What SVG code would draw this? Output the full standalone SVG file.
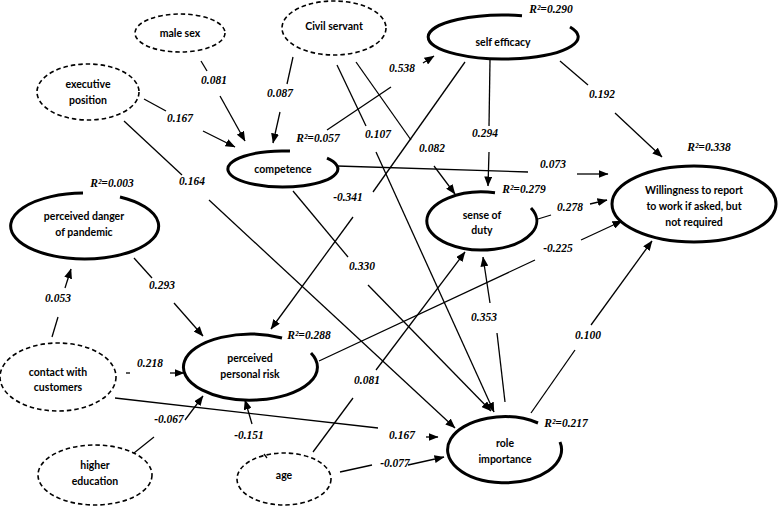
<svg xmlns="http://www.w3.org/2000/svg" width="778" height="506" viewBox="0 0 778 506">
<style>
.bg{fill:#fff}
.exo{fill:none;stroke:#000;stroke-width:1.6;stroke-dasharray:4.5 3}
.endo{fill:none;stroke:#000;stroke-width:3}
.nt{font-family:Lato,"Liberation Sans",sans-serif;font-weight:bold;font-size:10.5px;text-anchor:middle;fill:#000}
.cf{font-family:"Liberation Serif",serif;font-weight:bold;font-style:italic;font-size:11.5px;text-anchor:middle;fill:#000}
.c line{stroke:#000;stroke-width:1.3}
.c line.a{marker-end:url(#ah)}
</style>
<defs>
<marker id="ah" viewBox="0 0 10 8" refX="9.5" refY="4" markerWidth="10" markerHeight="8" markerUnits="userSpaceOnUse" orient="auto">
<path d="M0,0 L10,4 L0,8 Z" fill="#000"/>
</marker>
</defs>
<rect class="bg" x="0" y="0" width="778" height="506"/>

<g id="male-sex"><ellipse class="exo" cx="180" cy="33" rx="45" ry="19"/><text class="nt" x="180" y="37">male sex</text></g>
<g id="executive-position"><ellipse class="exo" cx="88" cy="92" rx="51" ry="28"/><text class="nt" x="88" y="88">executive</text><text class="nt" x="88" y="104">position</text></g>
<g id="civil-servant"><ellipse class="exo" cx="334" cy="28" rx="52" ry="27"/><text class="nt" x="334" y="30">Civil servant</text></g>
<g id="contact-customers"><ellipse class="exo" cx="58" cy="377" rx="58" ry="34"/><text class="nt" x="58" y="376">contact with</text><text class="nt" x="58" y="391">customers</text></g>
<g id="higher-education"><ellipse class="exo" cx="95" cy="475" rx="57" ry="30"/><text class="nt" x="95" y="469">higher</text><text class="nt" x="95" y="485">education</text></g>
<g id="age"><ellipse class="exo" cx="284" cy="479" rx="47" ry="26"/><text class="nt" x="284" y="479">age</text></g>

<g id="competence"><path class="endo" d="M327,158.2 A55 18 0 1 1 290,151.1"/><text class="nt" x="283" y="173">competence</text><text class="cf" x="318" y="142">R²=0.057</text></g>
<g id="self-efficacy"><path class="endo" d="M570,27 A75 22 0 1 1 522,15.7"/><text class="nt" x="503" y="46">self efficacy</text><text class="cf" x="551" y="13">R²=0.290</text></g>
<g id="sense-of-duty"><path class="endo" d="M531,208 A55 29 0 1 1 495,192.8"/><text class="nt" x="482" y="219">sense of</text><text class="nt" x="482" y="234">duty</text><text class="cf" x="524" y="193">R²=0.279</text></g>
<g id="perceived-danger"><path class="endo" d="M120,197 A74 33 0 1 1 83,193"/><text class="nt" x="84" y="220">perceived danger</text><text class="nt" x="84" y="236">of pandemic</text><text class="cf" x="112" y="187">R²=0.003</text></g>
<g id="perceived-personal-risk"><path class="endo" d="M311,353 A67 33 0 1 1 282,338"/><text class="nt" x="250" y="362">perceived</text><text class="nt" x="250" y="378">personal risk</text><text class="cf" x="309" y="339">R²=0.288</text></g>
<g id="role-importance"><path class="endo" d="M560,442 A57 33 0 1 1 538,423"/><text class="nt" x="505" y="447">role</text><text class="nt" x="505" y="463">importance</text><text class="cf" x="566" y="427">R²=0.217</text></g>
<g id="willingness"><ellipse class="endo" cx="694" cy="204" rx="82" ry="38"/><text class="nt" x="694" y="194">Willingness to report</text><text class="nt" x="694" y="210">to work if asked, but</text><text class="nt" x="694" y="226">not required</text><text class="cf" x="709" y="151">R²=0.338</text></g>

<g id="connectors" class="c">
<line x1="201" y1="61" x2="207" y2="71"/><line class="a" x1="220" y1="96" x2="245" y2="141"/>
<line x1="144" y1="99" x2="166" y2="111"/><line class="a" x1="203" y1="131" x2="235" y2="147"/>
<line x1="124" y1="121" x2="182" y2="175"/><line class="a" x1="209" y1="200" x2="455" y2="428"/>
<line x1="293" y1="57" x2="287" y2="84"/><line class="a" x1="280" y1="112" x2="273" y2="143"/>
<line x1="337" y1="65" x2="366" y2="126"/><line class="a" x1="376" y1="152" x2="494" y2="412"/>
<line x1="356" y1="62" x2="411" y2="140"/><line class="a" x1="434" y1="166" x2="455" y2="194"/>
<line x1="327" y1="130" x2="391" y2="87"/><line class="a" x1="423" y1="63" x2="434" y2="56"/>
<line x1="465" y1="62" x2="373" y2="192"/><line class="a" x1="353" y1="217" x2="271" y2="329"/>
<line x1="337" y1="166" x2="528" y2="172"/><line class="a" x1="577" y1="174" x2="608" y2="174"/>
<line x1="490" y1="60" x2="489" y2="126"/><line class="a" x1="489" y1="152" x2="488" y2="186"/>
<line x1="560" y1="61" x2="588" y2="85"/><line class="a" x1="615" y1="113" x2="662" y2="157"/>
<line x1="538" y1="219" x2="551" y2="215"/><line class="a" x1="590" y1="204" x2="607" y2="200"/>
<line x1="319" y1="361" x2="535" y2="260"/><line class="a" x1="581" y1="240" x2="622" y2="221"/>
<line x1="531" y1="413" x2="575" y2="350"/><line class="a" x1="591" y1="325" x2="652" y2="241"/>
<line x1="505" y1="402" x2="497" y2="333"/><line class="a" x1="490" y1="303" x2="483" y2="257"/>
<line x1="313" y1="452" x2="353" y2="398"/><line class="a" x1="376" y1="370" x2="465" y2="252"/>
<line x1="340" y1="472" x2="372" y2="465"/><line class="a" x1="408" y1="465" x2="444" y2="457"/>
<line x1="115" y1="398" x2="378" y2="428"/><line class="a" x1="426" y1="437" x2="438" y2="437"/>
<line x1="126" y1="373" x2="130" y2="373"/><line class="a" x1="170" y1="373" x2="184" y2="373"/>
<line x1="52" y1="337" x2="58" y2="317"/><line class="a" x1="65" y1="288" x2="71" y2="269"/>
<line x1="134" y1="258" x2="152" y2="278"/><line class="a" x1="174" y1="303" x2="203" y2="336"/>
<line x1="134" y1="453" x2="154" y2="437"/><line class="a" x1="185" y1="420" x2="203" y2="396"/>
<line x1="264" y1="454" x2="267" y2="458"/><line class="a" x1="252" y1="424" x2="245" y2="400"/>
<line x1="293" y1="191" x2="348" y2="257"/><line class="a" x1="368" y1="285" x2="491" y2="411"/>
</g>

<g id="labels">
<text class="cf" x="214" y="84">0.081</text>
<text class="cf" x="180" y="122">0.167</text>
<text class="cf" x="192" y="185">0.164</text>
<text class="cf" x="280" y="97">0.087</text>
<text class="cf" x="378" y="138">0.107</text>
<text class="cf" x="432" y="152">0.082</text>
<text class="cf" x="402" y="72">0.538</text>
<text class="cf" x="348" y="201">-0.341</text>
<text class="cf" x="553" y="168">0.073</text>
<text class="cf" x="485" y="137">0.294</text>
<text class="cf" x="602" y="98">0.192</text>
<text class="cf" x="570" y="211">0.278</text>
<text class="cf" x="558" y="252">-0.225</text>
<text class="cf" x="588" y="339">0.100</text>
<text class="cf" x="484" y="321">0.353</text>
<text class="cf" x="367" y="384">0.081</text>
<text class="cf" x="395" y="467">-0.077</text>
<text class="cf" x="402" y="439">0.167</text>
<text class="cf" x="150" y="367">0.218</text>
<text class="cf" x="58" y="302">0.053</text>
<text class="cf" x="162" y="289">0.293</text>
<text class="cf" x="169" y="423">-0.067</text>
<text class="cf" x="249" y="439">-0.151</text>
<text class="cf" x="362" y="270">0.330</text>
</g>
</svg>
